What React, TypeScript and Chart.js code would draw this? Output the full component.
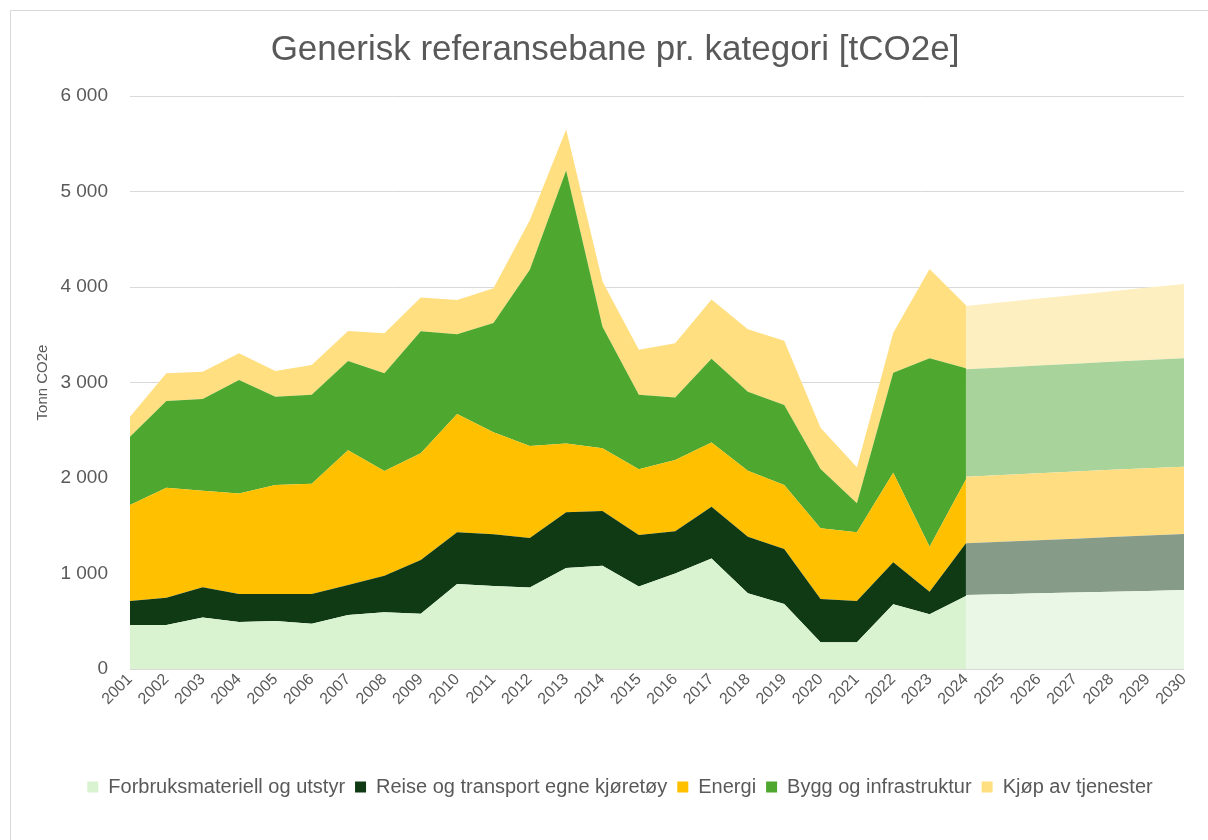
import React, { useEffect, useRef } from "react";
import { Chart, registerables } from "chart.js";

Chart.register(...registerables);

// Categories (years)
const YEARS = [
  "2001", "2002", "2003", "2004", "2005", "2006", "2007", "2008", "2009", "2010",
  "2011", "2012", "2013", "2014", "2015", "2016", "2017", "2018", "2019", "2020",
  "2021", "2022", "2023", "2024", "2025", "2026", "2027", "2028", "2029", "2030",
];

const SERIES_NAMES = [
  "Forbruksmateriell og utstyr",
  "Reise og transport egne kjøretøy",
  "Energi",
  "Bygg og infrastruktur",
  "Kjøp av tjenester",
];

// Historical values 2001–2024 (tCO2e)
const forbruk = [461, 461, 538, 492, 503, 475, 565, 593, 579, 890, 870, 854, 1058, 1081, 865, 1000, 1158, 792, 681, 279, 279, 677, 572, 765];
const reise = [251, 286, 317, 293, 282, 310, 315, 384, 562, 541, 540, 519, 584, 573, 539, 442, 542, 594, 576, 454, 433, 440, 238, 551];
const energi = [1005, 1152, 1012, 1054, 1142, 1156, 1410, 1096, 1117, 1239, 1070, 962, 720, 658, 688, 746, 673, 691, 670, 740, 719, 939, 471, 667];
const bygg = [716, 907, 960, 1187, 925, 932, 935, 1023, 1278, 835, 1143, 1846, 2857, 1273, 781, 654, 877, 827, 837, 621, 304, 1047, 1972, 1165];
const kjop = [209, 290, 286, 279, 268, 310, 314, 419, 354, 360, 365, 519, 431, 473, 469, 570, 619, 653, 674, 433, 377, 419, 935, 660];

// Reference path 2024–2030 (tCO2e)
const forbrukProj = [775, 784, 793, 801, 810, 818, 827];
const reiseProj = [541, 548, 556, 563, 572, 580, 587];
const energiProj = [698, 700, 701, 703, 704, 705, 705];
const byggProj = [1124, 1126, 1128, 1129, 1131, 1133, 1134];
const kjopProj = [663, 682, 701, 720, 739, 758, 778];

// Y ticks
const Y_MIN = 0;
const Y_MAX = 6000;
const Y_STEP = 1000;

const COLORS = ["#d9f2d0", "#0f3a14", "#ffc000", "#4ea72e", "#ffdf80"];
const PROJ_COLORS = ["#ebf7e6", "#869b88", "#ffdd80", "#a8d39a", "#feefc0"];

const TEXT = "#595959";
const FONT = "'Liberation Sans', Arial, sans-serif";

const padHist = (a: number[]) => [...a, ...Array(YEARS.length - a.length).fill(null)];
const padProj = (a: number[]) => [...Array(YEARS.length - a.length).fill(null), ...a];

const fmt = (v: number) => String(v).replace(/\B(?=(\d{3})+(?!\d))/g, " ");

// shifts the title and bottom legend horizontally to match the reference centering
const blockShift = {
  id: "blockShift",
  afterLayout(chart: any) {
    const lg = chart.legend;
    if (lg) {
      lg.left += 28;
      lg.right += 28;
    }
    const tb = chart.titleBlock;
    if (tb) {
      tb.left += 23;
      tb.right += 23;
    }
  },
};

export default function App() {
  const ref = useRef<HTMLCanvasElement | null>(null);

  useEffect(() => {
    if (!ref.current) return;
    const hist = [forbruk, reise, energi, bygg, kjop];
    const proj = [forbrukProj, reiseProj, energiProj, byggProj, kjopProj];
    const datasets: any[] = [];
    hist.forEach((arr, i) => {
      datasets.push({
        label: SERIES_NAMES[i],
        data: padHist(arr),
        backgroundColor: COLORS[i],
        borderColor: COLORS[i],
        borderWidth: 0,
        pointRadius: 0,
        pointHoverRadius: 0,
        fill: i === 0 ? "origin" : "-1",
        stack: "hist",
        tension: 0,
      });
    });
    proj.forEach((arr, i) => {
      datasets.push({
        label: SERIES_NAMES[i] + " (referansebane)",
        data: padProj(arr),
        backgroundColor: PROJ_COLORS[i],
        borderColor: PROJ_COLORS[i],
        borderWidth: 0,
        pointRadius: 0,
        pointHoverRadius: 0,
        fill: i === 0 ? "origin" : "-1",
        stack: "proj",
        tension: 0,
      });
    });

    const chart = new Chart(ref.current, {
      type: "line",
      data: { labels: YEARS, datasets },
      plugins: [blockShift],
      options: {
        responsive: false,
        animation: false,
        devicePixelRatio: 1,
        layout: { padding: { left: 0, right: 24, top: 0, bottom: 33 } },
        plugins: {
          tooltip: { enabled: false },
          title: {
            display: true,
            text: "Generisk referansebane pr. kategori [tCO2e]",
            color: TEXT,
            font: { family: FONT, size: 35, weight: "normal" },
            padding: { top: 29, bottom: 25 },
          },
          legend: {
            display: true,
            position: "bottom",
            labels: {
              boxWidth: 11,
              boxHeight: 11,
              color: TEXT,
              font: { family: FONT, size: 20 },
              padding: 10,
              filter: (item: any) => item.datasetIndex < 5,
            },
          },
        },
        scales: {
          x: {
            type: "category",
            offset: false,
            grid: { display: false, drawTicks: false },
            border: { display: false },
            ticks: {
              autoSkip: false,
              minRotation: 45,
              maxRotation: 45,
              color: TEXT,
              font: { family: FONT, size: 16 },
              padding: 1,
            },
            afterFit: (s: any) => {
              s.height = 98;
            },
          },
          y: {
            stacked: true,
            min: Y_MIN,
            max: Y_MAX,
            ticks: {
              stepSize: Y_STEP,
              color: TEXT,
              font: { family: FONT, size: 19 },
              padding: 22,
              callback: (v: any) => fmt(Number(v)),
            },
            grid: { color: "#d9d9d9", drawTicks: false, lineWidth: 1 },
            border: { display: false },
            title: {
              display: true,
              text: "Tonn CO2e",
              color: TEXT,
              font: { family: FONT, size: 15 },
              padding: { top: 34, bottom: 0 },
            },
            afterFit: (s: any) => {
              s.width = 130;
            },
          },
        },
      },
    });
    return () => chart.destroy();
  }, []);

  return (
    <div style={{ position: "absolute", left: 0, top: 0, width: 1208, height: 840, overflow: "hidden", background: "#fff" }}>
      <div
        style={{
          position: "absolute",
          left: 10,
          top: 10,
          width: 1198,
          height: 830,
          boxSizing: "border-box",
          borderTop: "1px solid #d9d9d9",
          borderLeft: "1px solid #d9d9d9",
          pointerEvents: "none",
        }}
      />
      <canvas ref={ref} width={1208} height={840} style={{ position: "absolute", left: 0, top: 0 }} />
    </div>
  );
}
